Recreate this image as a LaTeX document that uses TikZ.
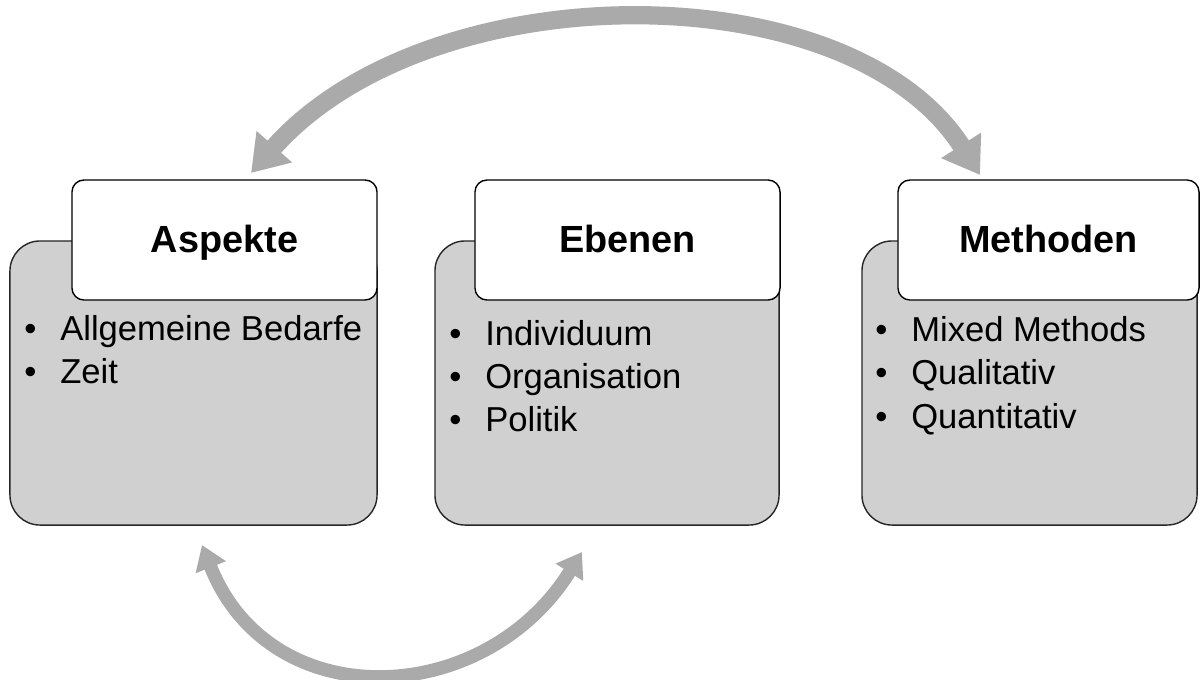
\documentclass[tikz,border=0pt]{standalone}
\usepackage{fontspec}
\setmainfont{Liberation Sans}
\usetikzlibrary{arrows.meta}
\definecolor{panelgray}{RGB}{208,208,208}
\definecolor{arrowgray}{RGB}{170,170,170}
\newcommand{\blt}{\makebox[25.6pt][l]{•}}
\tikzset{
  panel/.style={draw=black!85, line width=1pt, fill=panelgray, rounded corners=0.75cm,
    inner sep=0pt, minimum height=7.1cm},
  tab/.style={draw=black, line width=1pt, fill=white, rounded corners=0.3cm,
    inner sep=0pt, minimum height=3cm, minimum width=7.625cm},
  head/.style={font=\fontsize{26.9}{32}\selectfont\bfseries, anchor=base, inner sep=0pt},
  item/.style={font=\fontsize{24.6}{30}\selectfont, anchor=base west, inner sep=0pt},
  bigarrow/.style={draw=arrowgray, line width=13pt,
    {Triangle[length=25pt, width=32pt]}-{Triangle[length=25pt, width=32pt]}},
  smallarrow/.style={draw=arrowgray, line width=9.5pt,
    {Triangle[length=17pt, width=22pt]}-{Triangle[length=17pt, width=22pt]}},
}
\begin{document}
\begin{tikzpicture}[x=0.025cm, y=-0.025cm]
\useasboundingbox (0,0) rectangle (1200,679);

% lower panels
\node[panel, minimum width=9.175cm] (p1) at (193.5,383) {};
\node[panel, minimum width=8.6cm]   (p2) at (607,383) {};
\node[panel, minimum width=8.375cm] (p3) at (1029.5,383) {};

% title tabs
\node[tab] (t1) at (224.5,240) {};
\node[tab] (t2) at (627.5,240) {};
\node[tab, minimum width=7.525cm] (t3) at (1048.5,240) {};

\node[head] (h1) at (224.5,252) {Aspekte};
\node[head] (h2) at (627.5,252) {Ebenen};
\node[head] (h3) at (1048.5,252) {Methoden};

% bullet lists
\node[item] (a1) at (24,340) {\blt Allgemeine Bedarfe};
\node[item] (a2) at (24,383) {\blt Zeit};

\node[item] (b1) at (449,345) {\blt Individuum};
\node[item] (b2) at (449,388) {\blt Organisation};
\node[item] (b3) at (449,431) {\blt Politik};

\node[item] (c1) at (875,341) {\blt Mixed Methods};
\node[item] (c2) at (875,384) {\blt Qualitativ};
\node[item] (c3) at (875,428) {\blt Quantitativ};

% cycle arrows
\coordinate (topL) at (251,173);
\coordinate (topR) at (980,175);
\coordinate (botL) at (202,545);
\coordinate (botR) at (582,552);
\draw[bigarrow] (topL) .. controls (430,-29) and (850,-29) .. (topR);
\draw[smallarrow] (botL) .. controls (270,717) and (484,709) .. (botR);
\end{tikzpicture}
\end{document}
